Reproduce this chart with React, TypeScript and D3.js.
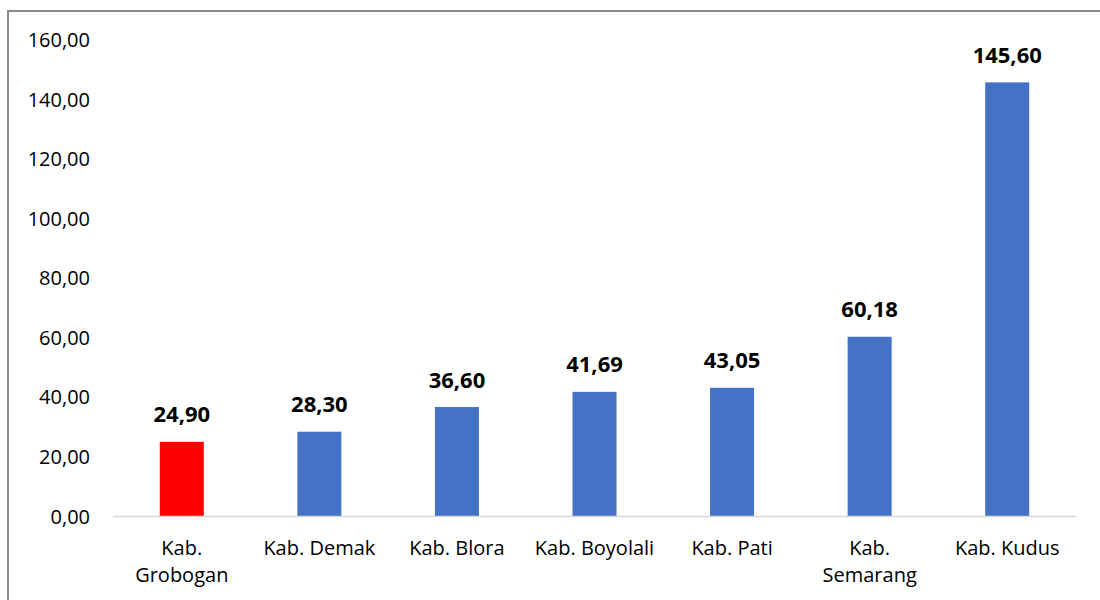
import React from "react";
import * as d3 from "d3";

const categories = ["Kab. Grobogan", "Kab. Demak", "Kab. Blora", "Kab. Boyolali", "Kab. Pati", "Kab. Semarang", "Kab. Kudus"];
const tickLabelLines = [["Kab.", "Grobogan"], ["Kab. Demak"], ["Kab. Blora"], ["Kab. Boyolali"], ["Kab. Pati"], ["Kab.", "Semarang"], ["Kab. Kudus"]];
const values = [24.9, 28.3, 36.6, 41.69, 43.05, 60.18, 145.6];
const highlight = ["Kab. Grobogan"];
const yTicks = [0, 20, 40, 60, 80, 100, 120, 140, 160];

const W = 1100;
const H = 600;
const FONT = "'Open Sans', 'Noto Sans', sans-serif";

function fmt(v: number) {
  return d3.format(".2f")(v).replace(".", ",");
}

export default function App() {
  const x = d3.scaleBand<string>().domain(categories).range([113, 1076]).paddingInner(0.68).paddingOuter(0.34);
  const y = d3.scaleLinear().domain([0, 160]).range([516, 39.5]);

  return (
    <svg width={W} height={H} style={{ position: "fixed", left: 0, top: 0, background: "#fff" }} fontFamily={FONT}>
      <rect x={0} y={0} width={W} height={H} fill="#fff" />
      <path d={`M8,${H + 5} L8,11 L${W + 5},11`} fill="none" stroke="#8c8c8c" strokeWidth={2} />
      {yTicks.map((t) => (
        <text key={t} x={90} y={y(t) + 7.5} textAnchor="end" fontSize={20} fill="#000">
          {fmt(t)}
        </text>
      ))}
      {categories.map((c, i) => (
        <rect
          key={c}
          x={x(c)!}
          y={y(values[i])}
          width={x.bandwidth()}
          height={y(0) - y(values[i])}
          fill={highlight.includes(c) ? "#FF0000" : "#4472C4"}
        />
      ))}
      <line x1={113} x2={1076} y1={y(0) + 0.5} y2={y(0) + 0.5} stroke="#D9D9D9" strokeWidth={1.5} />
      {categories.map((c, i) => (
        <text
          key={"v" + c}
          x={x(c)! + x.bandwidth() / 2}
          y={y(values[i]) - 19.5}
          textAnchor="middle"
          fontSize={22}
          fontWeight="bold"
          fill="#000"
        >
          {fmt(values[i])}
        </text>
      ))}
      {categories.map((c, i) => (
        <text key={"l" + c} x={x(c)! + x.bandwidth() / 2} y={555} textAnchor="middle" fontSize={20} fill="#000">
          {tickLabelLines[i].map((ln, j) => (
            <tspan key={j} x={x(c)! + x.bandwidth() / 2} dy={j === 0 ? 0 : 27}>
              {ln}
            </tspan>
          ))}
        </text>
      ))}
    </svg>
  );
}
